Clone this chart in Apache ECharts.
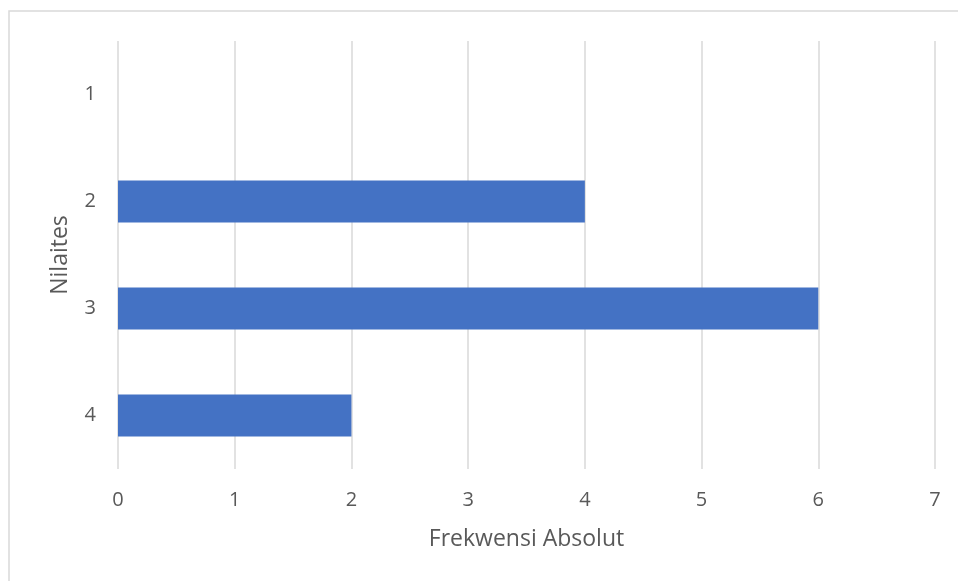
<!DOCTYPE html>
<html>
<head>
<meta charset="utf-8">
<script src="https://cdn.jsdelivr.net/npm/echarts@6/dist/echarts.min.js"></script>
<style>
html,body{margin:0;padding:0;background:#fff;}
#c{width:958px;height:581px;}
</style>
</head>
<body>
<div id="c"></div>
<script>
const categories = ['1', '2', '3', '4'];
const values = [0, 4, 6, 2];
const xTicks = [0, 1, 2, 3, 4, 5, 6, 7];
const xTitle = 'Frekwensi Absolut';
const yTitle = 'Nilaites';

const font = '"Open Sans", "Noto Sans", sans-serif';
const textColor = '#595959';
const chart = echarts.init(document.getElementById('c'), null, {renderer: 'canvas'});
chart.setOption({
  animation: false,
  backgroundColor: '#fff',
  graphic: [{
    type: 'rect',
    shape: {x: 9, y: 11, width: 1000, height: 1000},
    style: {fill: 'none', stroke: '#D9D9D9', lineWidth: 1.5},
    silent: true,
    z: -1
  }],
  grid: {left: 118, right: 23, top: 41, bottom: 112, containLabel: false},
  xAxis: {
    type: 'value',
    min: xTicks[0],
    max: xTicks[xTicks.length - 1],
    interval: 1,
    name: xTitle,
    nameLocation: 'middle',
    nameGap: 59,
    nameTextStyle: {color: textColor, fontSize: 23, fontFamily: font},
    axisLine: {show: false},
    axisTick: {show: false},
    axisLabel: {color: textColor, fontSize: 20, fontFamily: font, margin: 21},
    splitLine: {show: true, lineStyle: {color: '#D9D9D9', width: 1.5}}
  },
  yAxis: {
    type: 'category',
    data: categories,
    inverse: true,
    name: yTitle,
    nameLocation: 'middle',
    nameGap: 46,
    nameTextStyle: {color: textColor, fontSize: 23, fontFamily: font},
    axisLine: {show: false},
    axisTick: {show: false},
    axisLabel: {color: textColor, fontSize: 20, fontFamily: font, margin: 22},
    splitLine: {show: false}
  },
  series: [{
    type: 'bar',
    data: values,
    barWidth: 42,
    itemStyle: {color: '#4472C4'}
  }]
});
</script>
</body>
</html>
